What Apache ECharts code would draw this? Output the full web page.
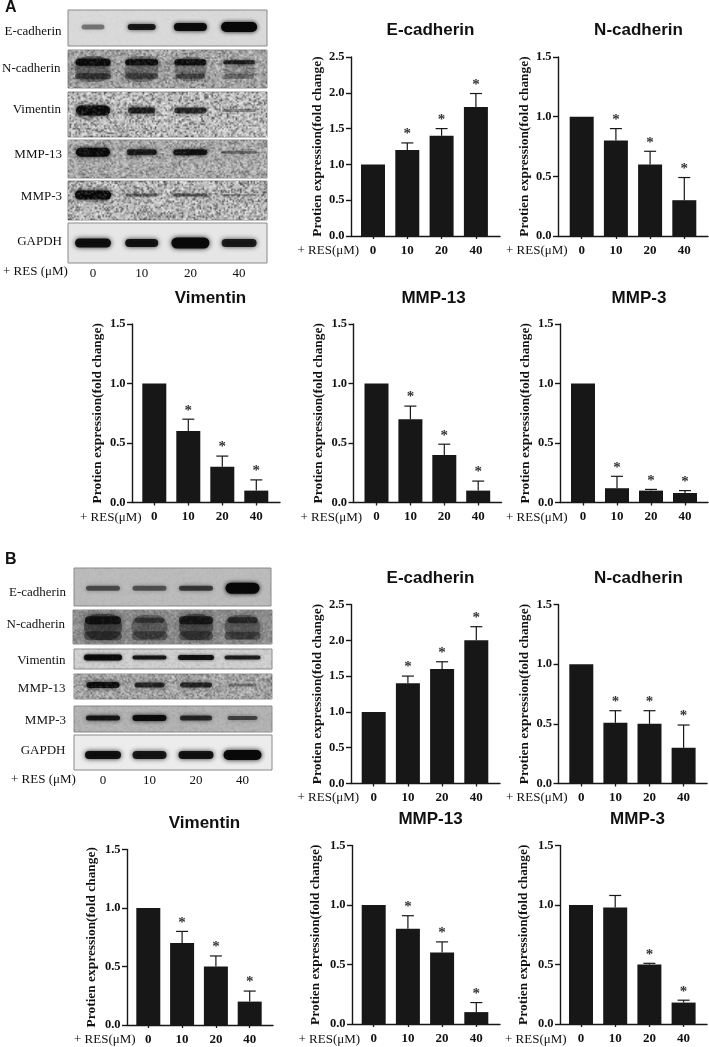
<!DOCTYPE html>
<html><head><meta charset="utf-8">
<style>html,body{margin:0;padding:0;background:#fff}#c{width:709px;height:1047px}</style>
<script src="https://cdn.jsdelivr.net/npm/echarts@6/dist/echarts.min.js"></script>
</head><body><div id="c"></div>
<script>
// ---- chart data -------------------------------------------------------
const doses = ['0', '10', '20', '40'];
const yAxisTitle = 'Protien expression(fold change)';
const doseAxisTitle = '+ RES(\u03bcM)';

const aEcadMean = [1, 1.2, 1.4, 1.8],   aEcadUpper = [null, 1.3, 1.5, 1.99],  aEcadStar = [0, 1, 1, 1];
const aNcadMean = [1, 0.8, 0.6, 0.3],   aNcadUpper = [null, 0.9, 0.71, 0.49], aNcadStar = [0, 1, 1, 1];
const aVimMean  = [1, 0.6, 0.3, 0.1],   aVimUpper  = [null, 0.7, 0.39, 0.19], aVimStar  = [0, 1, 1, 1];
const aM13Mean  = [1, 0.7, 0.4, 0.1],   aM13Upper  = [null, 0.81, 0.49, 0.18],aM13Star  = [0, 1, 1, 1];
const aM3Mean   = [1, 0.12, 0.1, 0.08], aM3Upper   = [null, 0.22, 0.11, 0.1], aM3Star   = [0, 1, 1, 1];
const bEcadMean = [1, 1.4, 1.6, 2],     bEcadUpper = [null, 1.5, 1.7, 2.19],  bEcadStar = [0, 1, 1, 1];
const bNcadMean = [1, 0.51, 0.5, 0.3],  bNcadUpper = [null, 0.61, 0.61, 0.49],bNcadStar = [0, 1, 1, 1];
const bVimMean  = [1, 0.7, 0.5, 0.2],   bVimUpper  = [null, 0.8, 0.59, 0.29], bVimStar  = [0, 1, 1, 1];
const bM13Mean  = [1, 0.8, 0.6, 0.1],   bM13Upper  = [null, 0.91, 0.69, 0.18],bM13Star  = [0, 1, 1, 1];
const bM3Mean   = [1, 0.98, 0.5, 0.18], bM3Upper   = [null, 1.08, 0.51, 0.2], bM3Star   = [0, 0, 1, 1];

// blot band densities per lane (0..1)
const aEcadBand = [0.42, 0.85, 0.95, 1];
const aNcadBandUp = [0.95, 0.92, 0.9, 0.75], aNcadBandLow = [0.55, 0.5, 0.45, 0.3], aNcadSmear = [0.35, 0.3, 0.28, 0.15];
const aVimBand = [1, 0.82, 0.72, 0.35];
const aM13Band = [1, 0.82, 0.88, 0.4];
const aM3Band = [1, 0.5, 0.55, 0.28];
const aGapdhBand = [0.92, 0.9, 0.98, 0.85];
const bEcadBand = [0.55, 0.52, 0.65, 1];
const bNcadBandUp = [0.8, 0.5, 0.75, 0.6], bNcadBandLow = [0.45, 0.4, 0.42, 0.42], bNcadSmear = [0.45, 0.3, 0.4, 0.3];
const bVimBand = [0.95, 0.85, 0.88, 0.8];
const bM13Band = [0.95, 0.75, 0.75, 0.35];
const bM3Band = [0.85, 0.95, 0.75, 0.6];
const bGapdhBand = [0.92, 0.88, 0.9, 0.98];

// ---- layout -----------------------------------------------------------
const SERIF = '"Liberation Serif"', SANS = '"Liberation Sans"', INK = '#171717';
const panels = [
 {t:'E-cadherin',tx:425.5,ty:25, ax:351,  r:500,top:57, bot:236, c0:373,  st:34.3,max:2.5,m:aEcadMean,u:aEcadUpper,s:aEcadStar,gap:27,rx:297.5,ry:251},
 {t:'N-cadherin',tx:633.5,ty:25, ax:558,  r:708,top:57, bot:236, c0:581.7,st:34.2,max:1.5,m:aNcadMean,u:aNcadUpper,s:aNcadStar,gap:27,rx:506,ry:251},
 {t:'Vimentin',  tx:205.5,ty:293,ax:132,  r:280,top:324,bot:502.5,c0:154.3,st:34,  max:1.5,m:aVimMean, u:aVimUpper, s:aVimStar, gap:28,rx:80,ry:517.5},
 {t:'MMP-13',    tx:428.5,ty:293,ax:353.5,r:501.5,top:324,bot:502.5,c0:376.5,st:33.9,max:1.5,m:aM13Mean,u:aM13Upper,s:aM13Star,gap:28,rx:300.5,ry:517.5},
 {t:'MMP-3',     tx:634,  ty:293,ax:560,  r:708,top:324,bot:502.5,c0:583,  st:34,  max:1.5,m:aM3Mean,  u:aM3Upper,  s:aM3Star,  gap:28,rx:506,ry:517.5},
 {t:'E-cadherin',tx:425.5,ty:573,ax:351,  r:500,top:604.5,bot:783.5,c0:373.7,st:34.2,max:2.5,m:bEcadMean,u:bEcadUpper,s:bEcadStar,gap:27,rx:297.5,ry:798},
 {t:'N-cadherin',tx:633.5,ty:573,ax:558.5,r:707,top:604.5,bot:783.5,c0:581.3,st:34.1,max:1.5,m:bNcadMean,u:bNcadUpper,s:bNcadStar,gap:27,rx:506,ry:798},
 {t:'Vimentin',  tx:199.5,ty:818,ax:127,  r:273,top:849.5,bot:1025,c0:148.3,st:33.8,max:1.5,m:bVimMean, u:bVimUpper, s:bVimStar, gap:29,rx:74,ry:1039.5},
 {t:'MMP-13',    tx:425.5,ty:814,ax:352,  r:500,top:845.5,bot:1024,c0:373.7,st:34.2,max:1.5,m:bM13Mean, u:bM13Upper, s:bM13Star, gap:29.5,rx:298.5,ry:1039.5},
 {t:'MMP-3',     tx:632.5,ty:814,ax:560,  r:707,top:845.5,bot:1024,c0:581,  st:34.2,max:1.5,m:bM3Mean,  u:bM3Upper,  s:bM3Star,  gap:30,rx:505,ry:1039.5}
];
const blots = [
 {n:'E-cadherin',x:68,y:10, w:199,h:36,c0:93,st:48.7,base:'#dadada',noise:.03,lr:61.5,ly:32,rows:[{p:.47,d:aEcadBand,w:[23,28,33,36],h:[5,6,8,10],b:2}]},
 {n:'N-cadherin',x:68,y:50, w:199,h:38,c0:93,st:48.7,base:'#a8a8a8',noise:.5, lr:60.5,ly:69,rows:[{p:.5,d:aNcadSmear,w:[36,34,32,32],h:[26,26,24,20],b:5},{p:.32,d:aNcadBandUp,w:[35,33,32,32],h:[7,6,6,4],b:1.5},{p:.69,d:aNcadBandLow,w:[36,33,30,30],h:[6,6,5,5],b:3}]},
 {n:'Vimentin',  x:68,y:92, w:199,h:45,c0:93,st:48.7,base:'#c4c4c4',noise:.75,lr:61,ly:110,rows:[{p:.41,d:aVimBand,w:[34,27,32,34],h:[10,6,6,3],b:2}]},
 {n:'MMP-13',    x:68,y:140,w:199,h:38,c0:93,st:48.7,base:'#adadad',noise:.5, lr:62,ly:155,rows:[{p:.32,d:aM13Band,w:[34,30,34,36],h:[9,6,6,3],b:2}]},
 {n:'MMP-3',     x:68,y:181,w:199,h:39,c0:93,st:48.7,base:'#bcbcbc',noise:.75,lr:62,ly:197,rows:[{p:.36,d:aM3Band,w:[36,32,34,34],h:[9,3,3,2],b:2}]},
 {n:'GAPDH',     x:68,y:223,w:199,h:40,c0:93,st:48.7,base:'#e6e6e6',noise:0,  lr:62,ly:242,rows:[{p:.5,d:aGapdhBand,w:[36,33,38,35],h:[9,8,11,8],b:2.5}],axis:true},
 {n:'E-cadherin',x:74,y:568,w:197,h:38,c0:103,st:46.5,base:'#bcbcbc',noise:.05,lr:66,ly:593,rows:[{p:.53,d:bEcadBand,w:[34,34,34,34],h:[5,5,5,11],b:2}]},
 {n:'N-cadherin',x:73,y:610,w:199,h:34,c0:103,st:46.5,base:'#8f8f8f',noise:.25,lr:65,ly:625,rows:[{p:.5,d:bNcadSmear,w:[38,36,34,36],h:[26,24,26,24],b:5},{p:.3,d:bNcadBandUp,w:[36,30,34,30],h:[8,5,8,6],b:3},{p:.76,d:bNcadBandLow,w:[38,36,34,36],h:[9,9,9,8],b:5}]},
 {n:'Vimentin',  x:74,y:649,w:198,h:20,c0:103,st:46.5,base:'#d2d2d2',noise:.12,lr:65.5,ly:661,rows:[{p:.42,d:bVimBand,w:[38,34,36,36],h:[6,4,5,4],b:1.5}]},
 {n:'MMP-13',    x:74,y:674,w:198,h:25,c0:103,st:46.5,base:'#a8a8a8',noise:.45,lr:65.5,ly:689,rows:[{p:.44,d:bM13Band,w:[33,30,32,28],h:[6,5,5,3],b:2}]},
 {n:'MMP-3',     x:74,y:706,w:198,h:26,c0:103,st:46.5,base:'#b4b4b4',noise:.1,lr:66,ly:721,rows:[{p:.46,d:bM3Band,w:[34,34,32,30],h:[5,6,5,4],b:2}]},
 {n:'GAPDH',     x:74,y:735,w:198,h:35,c0:103,st:46.5,base:'#ececec',noise:0, lr:65.5,ly:751,rows:[{p:.57,d:bGapdhBand,w:[36,34,35,38],h:[8,8,8,10],b:2.5}],axis:true}
];
const blotCaptions = [{x:3,y:272},{x:11,y:780}];
const panelLetters = [{t:'A',x:5,y:8},{t:'B',x:5,y:560}];

// ---- option building ----------------------------------------------------
const grid = [], xAxis = [], yAxis = [], series = [], title = [], graphic = [];

function addAxisTitle(t, x, y, font, align) {
  graphic.push({type:'text', silent:true, style:{text:t, x:x, y:y, font:font, fill:'#111',
    align:align, textAlign:align, verticalAlign:'middle', textVerticalAlign:'middle'}});
}

panels.forEach(function (p) {
  const h = p.bot - p.top;
  const g0 = grid.length;
  grid.push({left:p.ax, top:p.top, width:p.r - p.ax, height:h});
  xAxis.push({gridIndex:g0, type:'value', min:0, max:1, axisLine:{show:true, onZero:false, lineStyle:{color:INK, width:1.4}},
    axisTick:{show:false}, axisLabel:{show:false}, splitLine:{show:false}});
  yAxis.push({gridIndex:g0, type:'value', min:0, max:p.max, interval:.5,
    name:yAxisTitle, nameLocation:'middle', nameRotate:90, nameGap:p.gap,
    nameTextStyle:{fontFamily:SERIF, fontWeight:'bold', fontSize:13.4, color:'#111'},
    axisLine:{show:true, lineStyle:{color:INK, width:1.4}},
    axisTick:{show:true, length:5, lineStyle:{color:INK, width:1.4}},
    axisLabel:{margin:6.5, fontFamily:SERIF, fontWeight:'bold', fontSize:12.5, color:'#111', formatter:function(v){return v.toFixed(1);}},
    splitLine:{show:false}});
  const g1 = grid.length;
  grid.push({left:p.c0 - p.st/2, top:p.top, width:p.st*4, height:h});
  xAxis.push({gridIndex:g1, type:'category', data:doses, axisLine:{show:false},
    axisTick:{show:true, alignWithLabel:true, length:3, lineStyle:{color:INK, width:1.3}},
    axisLabel:{margin:8, fontFamily:SERIF, fontWeight:'bold', fontSize:13, color:'#111'}, splitLine:{show:false}});
  yAxis.push({gridIndex:g1, type:'value', min:0, max:p.max, show:false, splitLine:{show:false}});
  series.push({type:'bar', xAxisIndex:g1, yAxisIndex:g1, data:p.m, barWidth:24, silent:true,
    itemStyle:{color:INK}, animation:false});
  series.push({type:'custom', xAxisIndex:g1, yAxisIndex:g1, silent:true, animation:false, clip:false,
    data:doses.map(function(d,i){return [i, p.u[i] == null ? p.m[i] : p.u[i], p.s[i]];}),
    renderItem:function(params, api){
      const i = params.dataIndex, top = api.coord([i, api.value(1)]), base = api.coord([i, p.m[i]]);
      const kids = [];
      const ls = {stroke:INK, lineWidth:1.2};
      if (p.u[i] != null) {
        kids.push({type:'line', shape:{x1:top[0], y1:base[1], x2:top[0], y2:top[1]}, style:ls});
        kids.push({type:'line', shape:{x1:top[0]-6, y1:top[1], x2:top[0]+6, y2:top[1]}, style:ls});
      }
      if (api.value(2)) {
        kids.push({type:'text', style:{text:'*', x:top[0], y:top[1]-8.5, font:'bold 15px '+SERIF, fill:'#333',
          align:'center', textAlign:'center', verticalAlign:'middle', textVerticalAlign:'middle'}});
      }
      return {type:'group', children:kids};
    }});
  title.push({text:p.t, left:p.tx, top:p.ty, textAlign:'center', textVerticalAlign:'middle',
    textStyle:{fontFamily:SANS, fontWeight:'bold', fontSize:17, color:'#111'}});
  addAxisTitle(doseAxisTitle, p.rx, p.ry, '13px '+SERIF, 'left');
});

// deterministic speckle texture for the blot pictures (pure decoration)
function hash(x, y, s) {
  let h = (x*374761393 + y*668265263 + s*2147483647) | 0;
  h = Math.imul(h ^ (h >>> 13), 1274126177);
  return ((h ^ (h >>> 16)) >>> 0) / 4294967296;
}
function speckle(w, h, amount, seed) {
  const cw = Math.ceil(w/1.5), ch = Math.ceil(h/1.5);
  const c = document.createElement('canvas'); c.width = cw; c.height = ch;
  const x = c.getContext('2d'), im = x.createImageData(cw, ch);
  for (let j=0;j<ch;j++) for (let i=0;i<cw;i++) {
    const v = hash(i, j, seed), k = (j*cw+i)*4, light = v > .5;
    const a = Math.pow(Math.abs(v-.5)*2, 1.6) * amount;
    im.data[k]=im.data[k+1]=im.data[k+2] = light ? 255 : 20;
    im.data[k+3] = Math.round(a*(light?255:215));
  }
  x.putImageData(im,0,0);
  return c;
}
function textureSeries(b, g, tex, z) {
  series.push({type:'custom', xAxisIndex:g, yAxisIndex:g, silent:true, animation:false, clip:false, z:z,
    data:[[0,0]],
    renderItem:function(){
      return {type:'image', style:{image:tex, x:b.x, y:b.y, width:b.w, height:b.h}};
    }});
}

blots.forEach(function (b, idx) {
  graphic.push({type:'rect', silent:true, shape:{x:b.x, y:b.y, width:b.w, height:b.h},
    style:{fill:b.base, stroke:'#8a8a8a', lineWidth:1}});
  addAxisTitle(b.n, b.lr, b.ly, '13px '+SERIF, 'right');
  const g = grid.length;
  grid.push({left:b.c0 - b.st/2, top:b.y, width:b.st*4, height:b.h});
  xAxis.push({gridIndex:g, type:'category', data:doses, axisLine:{show:false}, axisTick:{show:false},
    axisLabel:{show:!!b.axis, margin:4, fontFamily:SERIF, fontSize:13, color:'#111'}, splitLine:{show:false}});
  yAxis.push({gridIndex:g, type:'value', min:0, max:1, inverse:true, show:false, splitLine:{show:false}});
  if (b.noise > 0) textureSeries(b, g, speckle(b.w, b.h, b.noise, idx+1), 1);
  b.rows.forEach(function (row) {
    series.push({type:'custom', xAxisIndex:g, yAxisIndex:g, silent:true, animation:false, clip:false, z:2,
      data:row.d.map(function(d,i){return [i, row.p, d];}),
      renderItem:function(params, api){
        const i = params.dataIndex, c = api.coord([i, api.value(1)]), d = api.value(2);
        const w = row.w[i], hh = row.h[i], col = 'rgba(8,8,8,'+d+')';
        return {type:'rect', shape:{x:c[0]-w/2, y:c[1]-hh/2, width:w, height:hh, r:hh/2},
          style:{fill:col, shadowBlur:row.b*2, shadowColor:col}};
      }});
  });
  if (b.noise > 0) textureSeries(b, g, speckle(b.w, b.h, b.noise*.3, idx+50), 3);
});

blotCaptions.forEach(function(c){ addAxisTitle('+ RES (\u03bcM)', c.x, c.y, '13px '+SERIF, 'left'); });
panelLetters.forEach(function(l){ addAxisTitle(l.t, l.x, l.y, 'bold 16px '+SANS, 'left'); });

const chart = echarts.init(document.getElementById('c'), null, {renderer:'canvas', width:709, height:1047});
chart.setOption({animation:false, backgroundColor:'#fff', title:title, grid:grid, xAxis:xAxis, yAxis:yAxis, series:series, graphic:graphic});
</script></body></html>
